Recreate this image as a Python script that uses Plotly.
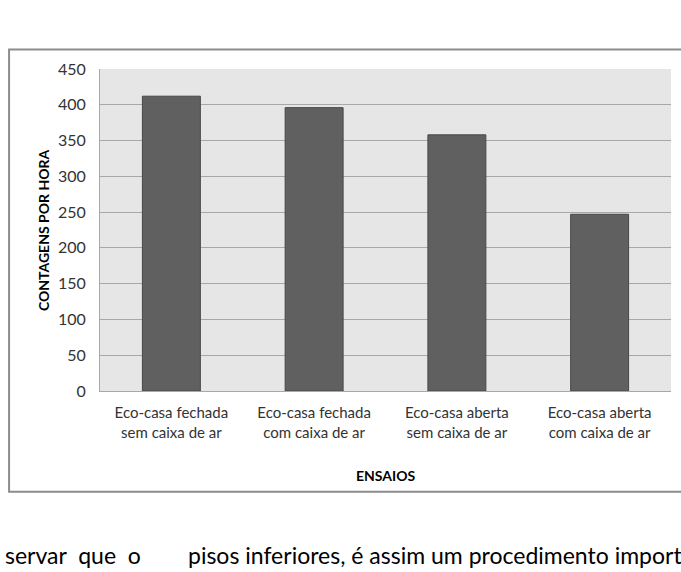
import plotly.graph_objects as go

categories = ["Eco-casa fechada<br>sem caixa de ar", "Eco-casa fechada<br>com caixa de ar",
              "Eco-casa aberta<br>sem caixa de ar", "Eco-casa aberta<br>com caixa de ar"]
values = [412, 396, 358, 247]
y_ticks = [0, 50, 100, 150, 200, 250, 300, 350, 400, 450]
y_title = "CONTAGENS POR HORA"
x_title = "ENSAIOS"
top_text = "Figura 4.6 – Variação das contagens horárias"
bottom_left = "servar&nbsp; que&nbsp; o"
bottom_right = "pisos inferiores, é assim um procedimento importante"

W, H = 681, 572
L, R, T, B = 100, 671.5, 68.5, 391

def px(x):
    return (x - L) / (R - L)

def py(y):
    return (B - y) / (B - T)

FONT = "Lato"

fig = go.Figure(go.Bar(
    x=categories, y=values,
    marker=dict(color="#606060", line=dict(color="#474747", width=1)),
))

fig.update_layout(
    width=W, height=H,
    margin=dict(l=L, r=W - R, t=T, b=H - B, pad=0),
    paper_bgcolor="white", plot_bgcolor="#e6e6e6",
    bargap=0.594, showlegend=False,
    font=dict(family=FONT, color="#333333", size=14),
)
fig.update_yaxes(range=[0, 450], tickvals=y_ticks, showgrid=True, gridcolor="#a8a8a8", gridwidth=1,
                 showline=True, linecolor="#a8a8a8", linewidth=1, ticks="", ticklabelstandoff=10,
                 tickfont=dict(family=FONT, size=16, color="#333333"), zeroline=False, fixedrange=True)
fig.update_xaxes(showline=True, linecolor="#a8a8a8", linewidth=1, ticks="", ticklabelstandoff=8,
                 tickfont=dict(family=FONT, size=15, color="#333333"), fixedrange=True)

# outer chart border
fig.add_shape(type="rect", xref="paper", yref="paper",
              x0=px(9), x1=px(700), y0=py(492), y1=py(49),
              line=dict(color="#8c8c8c", width=2), fillcolor="rgba(0,0,0,0)", layer="below")

fig.add_annotation(text=f"<b>{y_title}</b>", xref="paper", yref="paper", x=px(43), y=0.5,
                   textangle=-90, showarrow=False, xanchor="center", yanchor="middle",
                   font=dict(family=FONT, size=14, color="#000000"))
fig.add_annotation(text=f"<b>{x_title}</b>", xref="paper", yref="paper", x=0.5, y=py(476),
                   showarrow=False, xanchor="center", yanchor="middle",
                   font=dict(family=FONT, size=14, color="#000000"))
fig.add_annotation(text=top_text, xref="paper", yref="paper", x=px(720), y=py(-13),
                   showarrow=False, xanchor="right", yanchor="middle",
                   font=dict(family=FONT, size=22, color="#000000"))
fig.add_annotation(text=bottom_left, xref="paper", yref="paper", x=px(3), y=py(555),
                   showarrow=False, xanchor="left", yanchor="middle",
                   font=dict(family=FONT, size=23, color="#000000"))
fig.add_annotation(text=bottom_right, xref="paper", yref="paper", x=px(186), y=py(555),
                   showarrow=False, xanchor="left", yanchor="middle",
                   font=dict(family=FONT, size=23, color="#000000"))

fig.write_html("out.html", config={"displayModeBar": False})
